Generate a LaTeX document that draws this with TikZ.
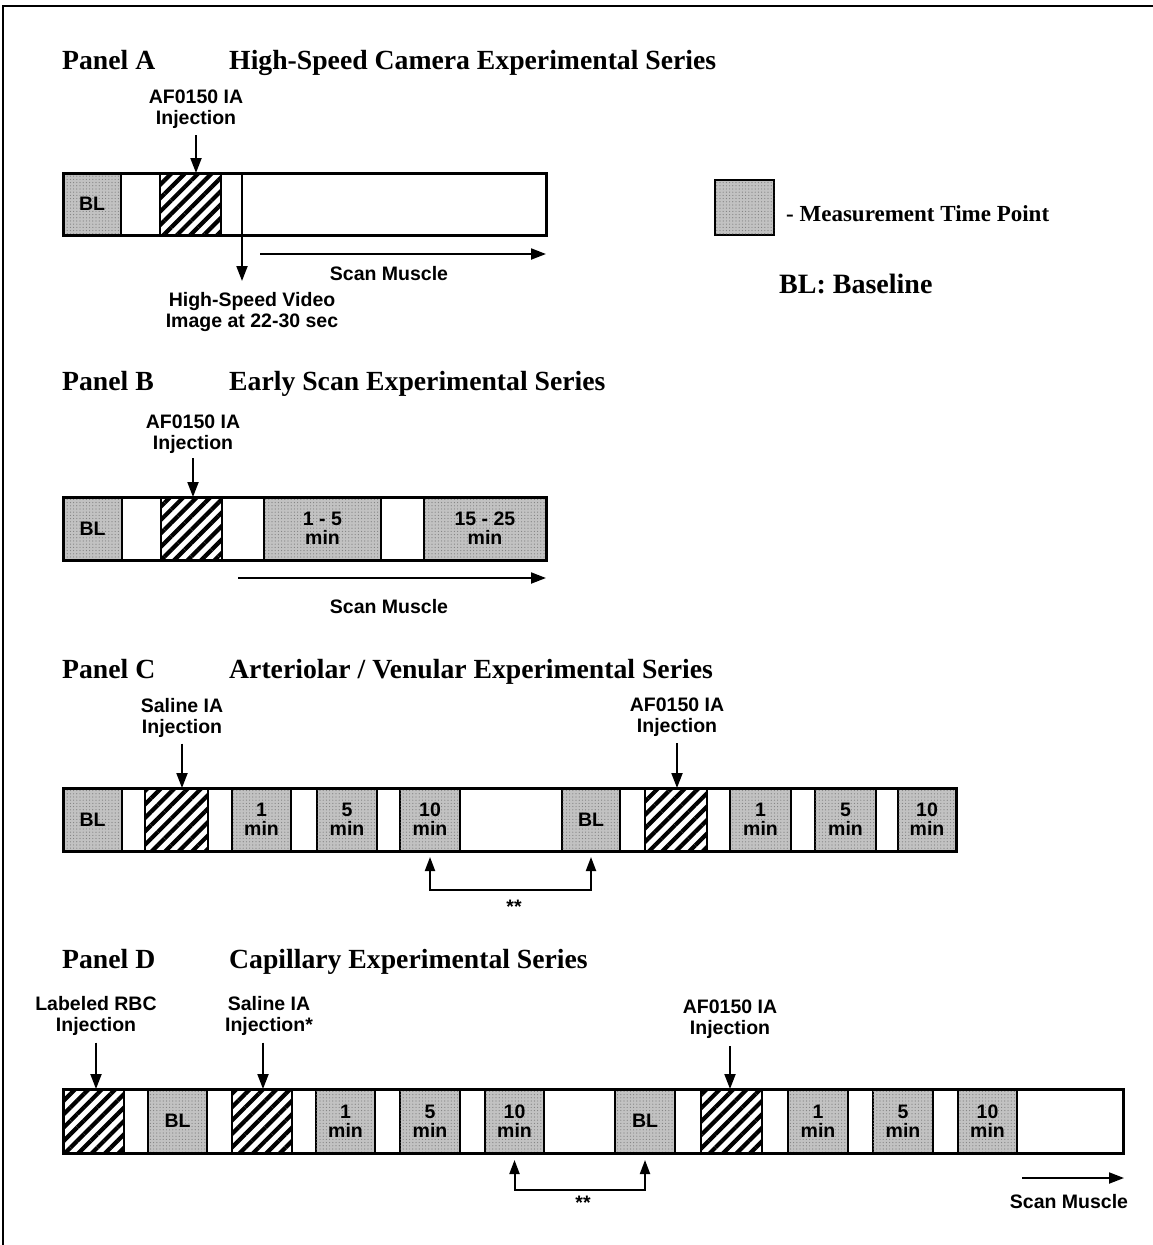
\documentclass[tikz,border=0pt]{standalone}
\usepackage{fontspec}
\setmainfont{Liberation Serif}
\newfontfamily\lsans{Liberation Sans}
\usetikzlibrary{arrows.meta,patterns.meta,calc}
\newcommand\sg[7]{\node[#6, minimum width={#3-#2}, minimum height={#5-#4}] (#1) at ({(#2+#3)/2},{(#4+#5)/2}) {#7};}
\tikzset{
  seg/.style={draw, line width=2.2pt, inner sep=0pt, outer sep=0pt, rectangle, align=center,
    font=\lsans\bfseries\fontsize{19.5}{19}\selectfont},
  wseg/.style={seg, fill=white},
  gseg/.style={seg, fill=black!24, postaction={pattern={Dots[distance=3.2pt,radius=0.6pt]}, pattern color=black!50}},
  hseg/.style={seg, pattern={Lines[angle=45,distance=9.5pt,line width=4.2pt]}},
  barframe/.style={draw, line width=3pt},
  lab/.style={font=\lsans\bfseries\fontsize{19.5}{21}\selectfont, align=center, inner sep=0pt, anchor=north},
  ptitle/.style={font=\bfseries\fontsize{27.7}{30}\selectfont, inner sep=0pt, anchor=base west},
  arr/.style={line width=2pt, -{Triangle[length=15pt,width=11pt]}},
  brk/.style={line width=2pt, {Triangle[length=14pt,width=10pt]}-{Triangle[length=14pt,width=10pt]}},
}
\begin{document}
\begin{tikzpicture}[x=1pt,y=-1pt]
\useasboundingbox (0,0) rectangle (1153,1245);
% frame
\coordinate (frBL) at (3,1245); \coordinate (frTL) at (3,6); \coordinate (frTR) at (1153,6);
\draw[line width=2pt] (frBL) -- (frTL) -- (frTR);

% ---------------- Panel A
\node[ptitle] (tA) at (62,69) {Panel A};
\node[ptitle] (tAt) at (229,69) {High-Speed Camera Experimental Series};
\sg{aBL}{63}{121}{173}{235}{gseg}{BL}
\sg{aW1}{121}{160}{173}{235}{wseg}{}
\sg{aH}{160}{221}{173}{235}{hseg}{}
\sg{aW2}{221}{242}{173}{235}{wseg}{}
\sg{aW3}{242}{546}{173}{235}{wseg}{}
\draw[barframe] (aBL.north west) rectangle (aW3.south east);
\node[lab] (aInj) at (196,90) {AF0150 IA\\Injection};
\draw[arr] ([yshift=-6pt]aInj.south) -- (aInj.south |- aH.north);
\coordinate (aVidEnd) at (242,281);
\draw[arr] (aW3.south west) -- (aVidEnd);
\node[lab] (aVid) at (252,292) {High-Speed Video\\Image at 22-30 sec};
\coordinate (aScanS) at (260,254); \coordinate (aScanE) at (546,254);
\draw[arr] (aScanS) -- (aScanE);
\node[lab, anchor=base] (aScan) at (389,280) {Scan Muscle};

% legend
\sg{legBox}{715}{774}{180}{235}{gseg}{}
\node[font=\bfseries\fontsize{23}{26}\selectfont, anchor=base west, inner sep=0pt] (legTxt) at (786,221) {- Measurement Time Point};
\node[font=\bfseries\fontsize{28}{31}\selectfont, anchor=base west, inner sep=0pt] (legBL) at (779,293) {BL: Baseline};

% ---------------- Panel B
\node[ptitle] (tB) at (62,390) {Panel B};
\node[ptitle] (tBt) at (229,390) {Early Scan Experimental Series};
\sg{bBL}{63}{122}{497}{560}{gseg}{BL}
\sg{bW1}{122}{161}{497}{560}{wseg}{}
\sg{bH}{161}{222}{497}{560}{hseg}{}
\sg{bW2}{222}{264}{497}{560}{wseg}{}
\sg{bG1}{264}{381}{497}{560}{gseg}{1 - 5\\min}
\sg{bW3}{381}{424}{497}{560}{wseg}{}
\sg{bG2}{424}{546}{497}{560}{gseg}{15 - 25\\min}
\draw[barframe] (bBL.north west) rectangle (bG2.south east);
\node[lab] (bInj) at (193,415) {AF0150 IA\\Injection};
\draw[arr] ([yshift=-4pt]bInj.south) -- (bInj.south |- bH.north);
\coordinate (bScanS) at (238,578); \coordinate (bScanE) at (546,578);
\draw[arr] (bScanS) -- (bScanE);
\node[lab, anchor=base] (bScan) at (389,613) {Scan Muscle};

% ---------------- Panel C
\node[ptitle] (tC) at (62,678) {Panel C};
\node[ptitle] (tCt) at (229,678) {Arteriolar / Venular Experimental Series};
\sg{cBL}{63}{122}{788}{851}{gseg}{BL}
\sg{cW1}{122}{145}{788}{851}{wseg}{}
\sg{cH1}{145}{208}{788}{851}{hseg}{}
\sg{cW2}{208}{232}{788}{851}{wseg}{}
\sg{cG1}{232}{291}{788}{851}{gseg}{1\\min}
\sg{cW3}{291}{317}{788}{851}{wseg}{}
\sg{cG5}{317}{377}{788}{851}{gseg}{5\\min}
\sg{cW4}{377}{400}{788}{851}{wseg}{}
\sg{cG10}{400}{460}{788}{851}{gseg}{10\\min}
\sg{cW5}{460}{562}{788}{851}{wseg}{}
\sg{cBL2}{562}{620}{788}{851}{gseg}{BL}
\sg{cW6}{620}{645}{788}{851}{wseg}{}
\sg{cH2}{645}{707}{788}{851}{hseg}{}
\sg{cW7}{707}{730}{788}{851}{wseg}{}
\sg{cG1b}{730}{791}{788}{851}{gseg}{1\\min}
\sg{cW8}{791}{815}{788}{851}{wseg}{}
\sg{cG5b}{815}{876}{788}{851}{gseg}{5\\min}
\sg{cW9}{876}{898}{788}{851}{wseg}{}
\sg{cG10b}{898}{956}{788}{851}{gseg}{10\\min}
\draw[barframe] (cBL.north west) rectangle (cG10b.south east);
\node[lab] (cSal) at (182,698) {Saline IA\\Injection};
\draw[arr] ([yshift=-6pt]cSal.south) -- (cSal.south |- cH1.north);
\node[lab] (cAF) at (677,698) {AF0150 IA\\Injection};
\draw[arr] ([yshift=-6pt]cAF.south) -- (cAF.south |- cH2.north);
\draw[brk] ([yshift=-6pt]cG10.south) -- ([yshift=-39pt]cG10.south) -| ([yshift=-6pt]cBL2.south);
\node[lab] (cStar) at (514,900) {**};

% ---------------- Panel D
\node[ptitle] (tD) at (62,968) {Panel D};
\node[ptitle] (tDt) at (229,968) {Capillary Experimental Series};
\sg{dH1}{63}{124}{1089}{1153}{hseg}{}
\sg{dW1}{124}{148}{1089}{1153}{wseg}{}
\sg{dBL}{148}{207}{1089}{1153}{gseg}{BL}
\sg{dW2}{207}{232}{1089}{1153}{wseg}{}
\sg{dH2}{232}{292}{1089}{1153}{hseg}{}
\sg{dW3}{292}{316}{1089}{1153}{wseg}{}
\sg{dG1}{316}{375}{1089}{1153}{gseg}{1\\min}
\sg{dW4}{375}{400}{1089}{1153}{wseg}{}
\sg{dG5}{400}{460}{1089}{1153}{gseg}{5\\min}
\sg{dW5}{460}{485}{1089}{1153}{wseg}{}
\sg{dG10}{485}{544}{1089}{1153}{gseg}{10\\min}
\sg{dW6}{544}{615}{1089}{1153}{wseg}{}
\sg{dBL2}{615}{675}{1089}{1153}{gseg}{BL}
\sg{dW7}{675}{701}{1089}{1153}{wseg}{}
\sg{dH3}{701}{762}{1089}{1153}{hseg}{}
\sg{dW8}{762}{788}{1089}{1153}{wseg}{}
\sg{dG1b}{788}{848}{1089}{1153}{gseg}{1\\min}
\sg{dW9}{848}{873}{1089}{1153}{wseg}{}
\sg{dG5b}{873}{933}{1089}{1153}{gseg}{5\\min}
\sg{dW10}{933}{958}{1089}{1153}{wseg}{}
\sg{dG10b}{958}{1017}{1089}{1153}{gseg}{10\\min}
\sg{dW11}{1017}{1123}{1089}{1153}{wseg}{}
\draw[barframe] (dH1.north west) rectangle (dW11.south east);
\node[lab] (dRBC) at (96,996) {Labeled RBC\\Injection};
\draw[arr] ([yshift=-7pt]dRBC.south) -- (dRBC.south |- dH1.north);
\node[lab] (dSal) at (269,996) {Saline IA\\Injection*};
\draw[arr] ([xshift=-6pt,yshift=-7pt]dSal.south) -- ([xshift=-6pt]dSal.south |- dH2.north);
\node[lab] (dAF) at (730,1000) {AF0150 IA\\Injection};
\draw[arr] ([yshift=-7pt]dAF.south) -- (dAF.south |- dH3.north);
\draw[brk] ([yshift=-7pt]dG10.south) -- ([yshift=-37pt]dG10.south) -| ([yshift=-7pt]dBL2.south);
\node[lab] (dStar) at (583,1196) {**};
\coordinate (dScanS) at (1022,1178); \coordinate (dScanE) at (1124,1178);
\draw[arr] (dScanS) -- (dScanE);
\node[lab, anchor=base] (dScan) at (1069,1208) {Scan Muscle};
\end{tikzpicture}
\end{document}
